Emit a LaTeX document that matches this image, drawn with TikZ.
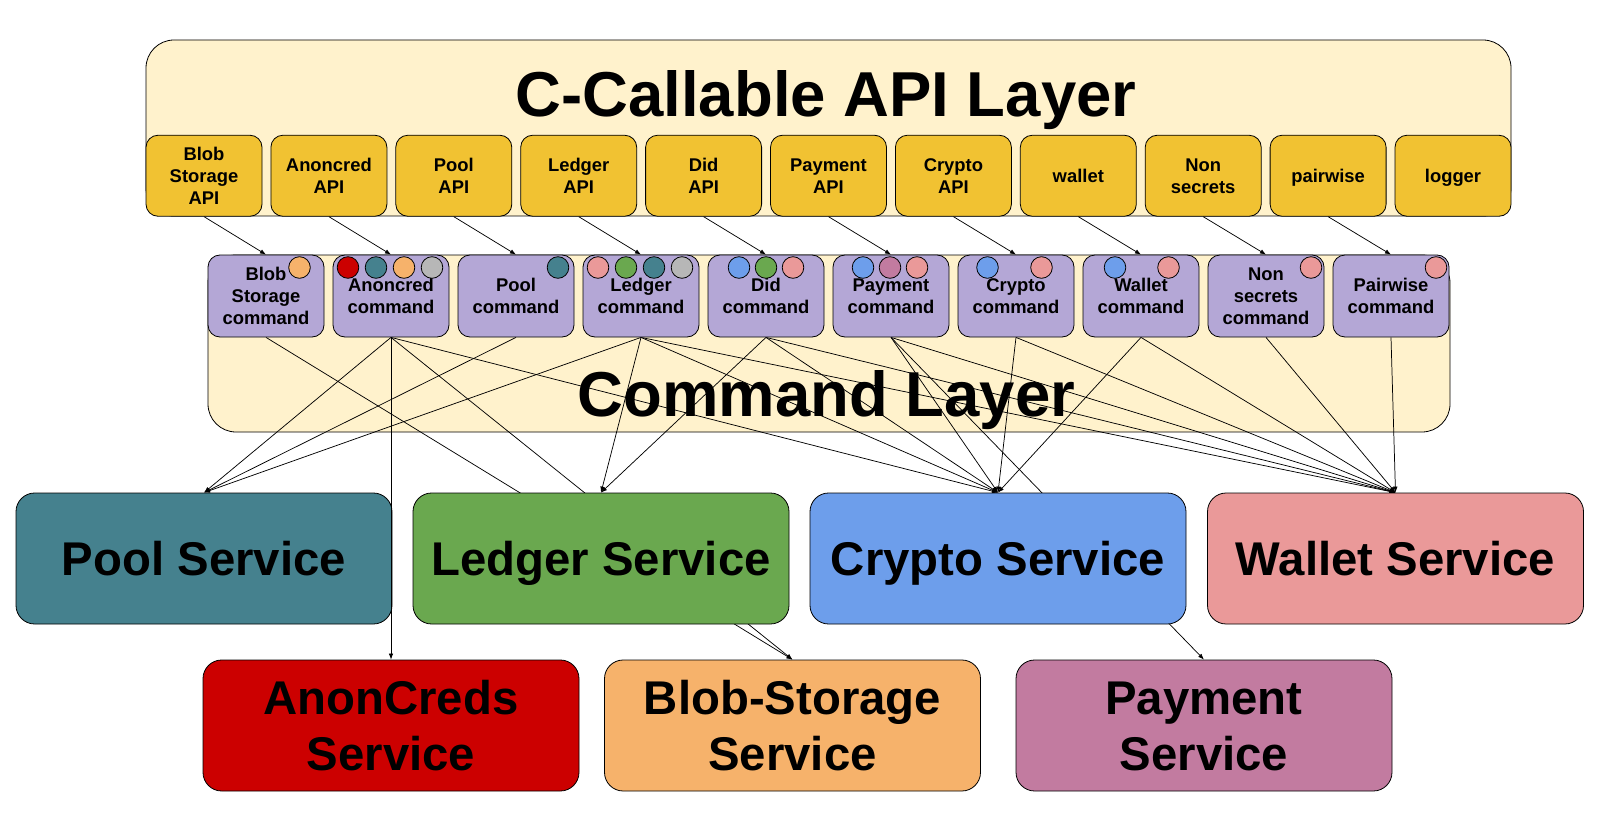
\documentclass[tikz,border=0pt]{standalone}
\usepackage{fontspec}
\setmainfont{Liberation Sans}
\usetikzlibrary{arrows.meta}
\definecolor{cream}{HTML}{FFF2CC}
\definecolor{apiY}{HTML}{F1C232}
\definecolor{cmdP}{HTML}{B4A7D6}
\definecolor{poolC}{HTML}{45818E}
\definecolor{ledgerC}{HTML}{6AA84F}
\definecolor{cryptoC}{HTML}{6D9EEB}
\definecolor{walletC}{HTML}{EA9999}
\definecolor{anonC}{HTML}{CC0000}
\definecolor{blobC}{HTML}{F6B26B}
\definecolor{payC}{HTML}{C27BA0}
\definecolor{grayC}{HTML}{B7B7B7}
\pgfdeclarelayer{bg}
\pgfdeclarelayer{lines}
\pgfdeclarelayer{front}
\pgfsetlayers{bg,lines,main,front}
\begin{document}
\begin{tikzpicture}[x=0.75pt,y=-0.75pt,
  box/.style={draw=black, line width=0.6pt, inner sep=0pt, align=center},
  layerbox/.style={box, fill=cream, rounded corners=21pt},
  layertitle/.style={anchor=base, inner sep=0pt, font=\fontsize{47.6pt}{57pt}\selectfont\bfseries},
  smallfont/.style={font=\fontsize{13.8pt}{16.5pt}\selectfont\bfseries},
  apibox/.style={box, smallfont, fill=apiY, rounded corners=9pt, minimum width=87pt, minimum height=60.75pt},
  cmdbox/.style={box, smallfont, fill=cmdP, rounded corners=9pt, minimum width=87pt, minimum height=61.5pt},
  svcbox/.style={box, font=\fontsize{35.5pt}{42.4pt}\selectfont\bfseries, rounded corners=14pt, minimum width=282pt, minimum height=98.25pt},
  sa/.style={text height=9.9pt, text depth=0pt},
  sb/.style={text height=26.4pt, text depth=0pt},
  sc/.style={text height=42.9pt, text depth=0pt},
  ba/.style={text height=25.4pt, text depth=0pt},
  bb/.style={text height=67.8pt, text depth=0pt},
  dot/.style={circle, draw=black, line width=0.6pt, minimum size=16.2pt, inner sep=0pt},
  conn/.style={line width=0.55pt, -{Latex[length=4.5pt,width=3.4pt]}}
]
\useasboundingbox (0,0) rectangle (1607,831);

% layers
\begin{pgfonlayer}{bg}
\fill[white] (0,0) rectangle (1607,831);
\node[layerbox, minimum width=1023.75pt, minimum height=132pt] (apilayer) at (828.5,128) {};
\node[layertitle] (apititle) at (826,116.6) {C-Callable API Layer};
\node[layerbox, minimum width=931.5pt, minimum height=132.75pt] (cmdlayer) at (829,343.5) {};
\node[layertitle] (cmdtitle) at (826.5,416.5) {Command Layer};
\end{pgfonlayer}

% API boxes
\node[apibox, sc] (a0) at (204,175.75) {Blob\\Storage\\API};
\node[apibox, sb] (a1) at (328.9,175.75) {Anoncred\\API};
\node[apibox, sb] (a2) at (453.8,175.75) {Pool\\API};
\node[apibox, sb] (a3) at (578.7,175.75) {Ledger\\API};
\node[apibox, sb] (a4) at (703.6,175.75) {Did\\API};
\node[apibox, sb] (a5) at (828.5,175.75) {Payment\\API};
\node[apibox, sb] (a6) at (953.4,175.75) {Crypto\\API};
\node[apibox, sa] (a7) at (1078.3,175.75) {wallet};
\node[apibox, sb] (a8) at (1203.2,175.75) {Non\\secrets};
\node[apibox, sa] (a9) at (1328.1,175.75) {pairwise};
\node[apibox, sa] (a10) at (1453,175.75) {logger};

% command boxes
\node[cmdbox, sc] (c0) at (266,296) {Blob\\Storage\\command};
\node[cmdbox, sb] (c1) at (391,296) {Anoncred\\command};
\node[cmdbox, sb] (c2) at (516,296) {Pool\\command};
\node[cmdbox, sb] (c3) at (641,296) {Ledger\\command};
\node[cmdbox, sb] (c4) at (766,296) {Did\\command};
\node[cmdbox, sb] (c5) at (891,296) {Payment\\command};
\node[cmdbox, sb] (c6) at (1016,296) {Crypto\\command};
\node[cmdbox, sb] (c7) at (1141,296) {Wallet\\command};
\node[cmdbox, sc] (c8) at (1266,296) {Non\\secrets\\command};
\node[cmdbox, sb] (c9) at (1391,296) {Pairwise\\command};

% service usage dots
\node[dot, fill=blobC] (d0a) at (299.5,267.5) {};
\node[dot, fill=anonC] (d1a) at (348,267.5) {};
\node[dot, fill=poolC] (d1b) at (376,267.5) {};
\node[dot, fill=blobC] (d1c) at (404,267.5) {};
\node[dot, fill=grayC] (d1d) at (432,267.5) {};
\node[dot, fill=poolC] (d2a) at (558,267.5) {};
\node[dot, fill=walletC] (d3a) at (598,267.5) {};
\node[dot, fill=ledgerC] (d3b) at (626,267.5) {};
\node[dot, fill=poolC] (d3c) at (654,267.5) {};
\node[dot, fill=grayC] (d3d) at (682,267.5) {};
\node[dot, fill=cryptoC] (d4a) at (739,267.5) {};
\node[dot, fill=ledgerC] (d4b) at (766,267.5) {};
\node[dot, fill=walletC] (d4c) at (793,267.5) {};
\node[dot, fill=cryptoC] (d5a) at (863,267.5) {};
\node[dot, fill=payC] (d5b) at (890,267.5) {};
\node[dot, fill=walletC] (d5c) at (917,267.5) {};
\node[dot, fill=cryptoC] (d6a) at (987.5,267.5) {};
\node[dot, fill=walletC] (d6b) at (1041.5,267.5) {};
\node[dot, fill=cryptoC] (d7a) at (1115,267.5) {};
\node[dot, fill=walletC] (d7b) at (1168.5,267.5) {};
\node[dot, fill=walletC] (d8a) at (1311,267.5) {};
\node[dot, fill=walletC] (d9a) at (1436,267.5) {};

% services
\node[svcbox, ba, fill=poolC] (spool) at (204,558.5) {Pool Service};
\node[svcbox, ba, fill=ledgerC] (sledger) at (601,558.5) {Ledger Service};
\node[svcbox, ba, fill=cryptoC] (scrypto) at (998,558.5) {Crypto Service};
\node[svcbox, ba, fill=walletC] (swallet) at (1395.5,558.5) {Wallet Service};
\node[svcbox, bb, fill=anonC] (sanon) at (391,725.5) {AnonCreds\\Service};
\node[svcbox, bb, fill=blobC] (sblob) at (792.5,725.5) {Blob-Storage\\Service};
\node[svcbox, bb, fill=payC] (spay) at (1204,725.5) {Payment\\Service};

% connectors
\begin{pgfonlayer}{lines}
\foreach \i in {0,...,9} {\draw[conn] (a\i.south) -- (c\i.north);}
\draw[conn] (c0.south) -- (sblob.north);
\draw[conn] (c1.south) -- (spool.north);
\draw[conn] (c1.south) -- (sblob.north);
\draw[conn] (c1.south) -- (scrypto.north);
\draw[conn] (c2.south) -- (spool.north);
\draw[conn] (c3.south) -- (spool.north);
\draw[conn] (c3.south) -- (sledger.north);
\draw[conn] (c3.south) -- (scrypto.north);
\draw[conn] (c3.south) -- (swallet.north);
\draw[conn] (c4.south) -- (sledger.north);
\draw[conn] (c4.south) -- (scrypto.north);
\draw[conn] (c4.south) -- (swallet.north);
\draw[conn] (c5.south) -- (scrypto.north);
\draw[conn] (c5.south) -- (swallet.north);
\draw[conn] (c5.south) -- (spay.north);
\draw[conn] (c6.south) -- (scrypto.north);
\draw[conn] (c6.south) -- (swallet.north);
\draw[conn] (c7.south) -- (scrypto.north);
\draw[conn] (c7.south) -- (swallet.north);
\draw[conn] (c8.south) -- (swallet.north);
\draw[conn] (c9.south) -- (swallet.north);
\end{pgfonlayer}
\begin{pgfonlayer}{front}
\draw[conn] (c1.south) -- (sanon.north);
\end{pgfonlayer}
\end{tikzpicture}
\end{document}
